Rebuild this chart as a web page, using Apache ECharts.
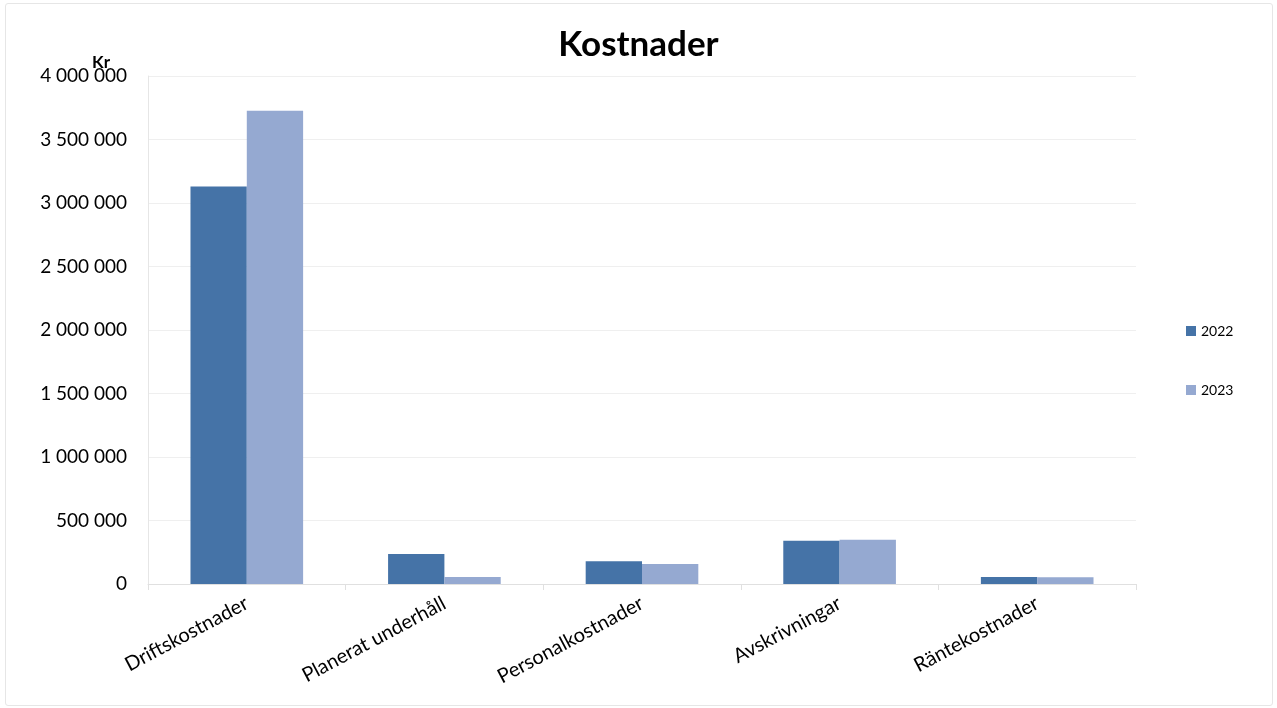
<!DOCTYPE html>
<html><head><meta charset="utf-8">
<script src="https://cdn.jsdelivr.net/npm/echarts@6/dist/echarts.min.js"></script>
<style>
html,body{margin:0;padding:0;background:#fff;}
#frame{position:absolute;left:5px;top:3px;width:1266px;height:701px;border:1px solid #e6e6e6;border-radius:3px;}
#c{position:absolute;left:0;top:0;width:1277px;height:708px;}
</style></head>
<body>
<div id="frame"></div>
<div id="c"></div>
<script>
const categories = ['Driftskostnader', 'Planerat underhåll', 'Personalkostnader', 'Avskrivningar', 'Räntekostnader'];
const values2022 = [3130000, 236000, 179000, 341000, 55000];
const values2023 = [3727000, 55000, 157000, 349000, 53000];
const seriesNames = ['2022', '2023'];
const yTicks = [0, 500000, 1000000, 1500000, 2000000, 2500000, 3000000, 3500000, 4000000];
const yUnit = 'Kr';

const fontFam = 'Lato, "Open Sans", sans-serif';
function fmt(v){ return String(v).replace(/\B(?=(\d{3})+(?!\d))/g, ' '); }

const chart = echarts.init(document.getElementById('c'));
chart.setOption({
  animation: false,
  title: {
    text: 'Kostnader', left: 'center', top: 22,
    textStyle: { fontFamily: fontFam, fontSize: 35, fontWeight: 'bold', color: '#000' }
  },
  graphic: [{
    type: 'text', left: 92, top: 54, z: 10,
    style: { text: yUnit, fontFamily: fontFam, fontSize: 17, fontWeight: 'bold', fill: '#000' }
  }],
  legend: {
    orient: 'vertical', left: 1186, top: 324, padding: 0,
    itemWidth: 10, itemHeight: 10, itemGap: 45,
    icon: 'rect',
    textStyle: { fontFamily: fontFam, fontSize: 14, color: '#000' },
    data: seriesNames
  },
  grid: { left: 148, right: 141, top: 76, bottom: 124, containLabel: false },
  xAxis: {
    type: 'category', data: categories,
    axisLine: { show: true, lineStyle: { color: '#e0e0e0' } },
    axisTick: { show: true, length: 6, lineStyle: { color: '#e0e0e0' } },
    axisLabel: {
      rotate: 28, fontFamily: fontFam, fontSize: 20, color: '#000', margin: 18,
      interval: 0
    }
  },
  yAxis: {
    type: 'value', min: 0, max: 4000000, interval: 500000,
    axisLine: { show: true, lineStyle: { color: '#e6e6e6' } },
    axisTick: { show: false },
    splitLine: { show: true, lineStyle: { color: '#efefef' } },
    axisLabel: {
      fontFamily: fontFam, fontSize: 19, color: '#000', margin: 21,
      formatter: function(v){ return yTicks.indexOf(v) >= 0 ? fmt(v) : ''; }
    }
  },
  series: [
    { name: seriesNames[0], type: 'bar', data: values2022, barGap: '0%', barCategoryGap: '43%',
      itemStyle: { color: '#4573A7' } },
    { name: seriesNames[1], type: 'bar', data: values2023, barGap: '0%', barCategoryGap: '43%',
      itemStyle: { color: '#95A9D1' } }
  ]
});
</script>
</body></html>
